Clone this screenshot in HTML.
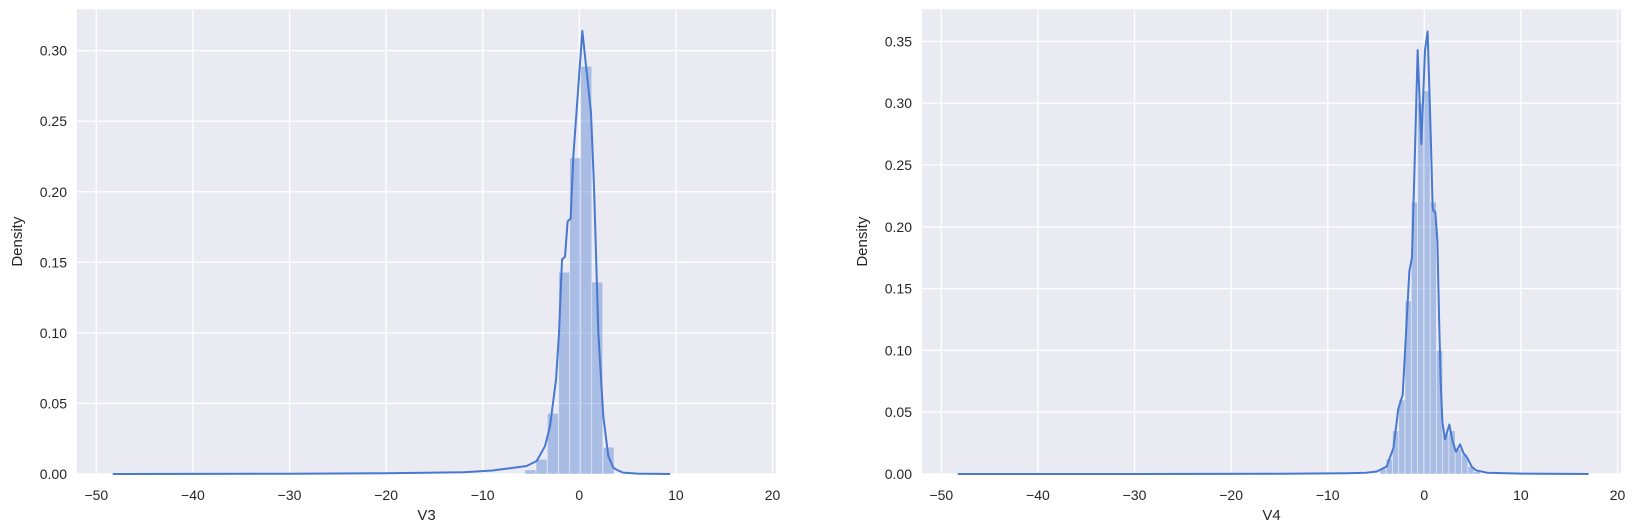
<!DOCTYPE html>
<html><head><meta charset="utf-8">
<style>
html,body{margin:0;padding:0;background:#fff;}
svg{display:block;font-family:"Liberation Sans","DejaVu Sans",sans-serif;}
</style></head>
<body>
<svg id="chart" width="1637" height="529" viewBox="0 0 1637 529" xmlns="http://www.w3.org/2000/svg"></svg>
<script>
// ---- V3 data ----
const v3BinStarts = [-5.63, -4.48, -3.31, -2.14, -1.0, 0.14, 1.28, 2.45];
const v3BinWidth = 1.15;
const v3BinHeights = [0.003, 0.0104, 0.043, 0.143, 0.224, 0.289, 0.136, 0.019];
const v3KdeX = [-48.3, -30, -20, -12, -9, -7.52, -5.45, -4.41, -3.55, -3.03, -2.41, -2.1, -1.79, -1.48, -1.21, -0.9, -0.62, 0.31, 1.21, 1.52, 1.97, 2.48, 3.0, 3.52, 3.86, 4.5, 6, 9.4];
const v3KdeY = [0.0, 0.0002, 0.0005, 0.0012, 0.0025, 0.0038, 0.0057, 0.0092, 0.0198, 0.034, 0.067, 0.100, 0.152, 0.154, 0.179, 0.181, 0.225, 0.314, 0.256, 0.204, 0.100, 0.041, 0.0127, 0.0045, 0.003, 0.001, 0.0003, 0.0];
const v3YTicks = [0.00, 0.05, 0.10, 0.15, 0.20, 0.25, 0.30];
// ---- V4 data ----
const v4BinStarts = [-4.6, -3.95, -3.3, -2.65, -2.0, -1.35, -0.7, -0.05, 0.6, 1.25, 1.9, 2.55, 3.2, 3.85, 4.5, 5.15];
const v4BinWidth = 0.65;
const v4BinHeights = [0.004, 0.012, 0.035, 0.06, 0.14, 0.22, 0.30, 0.31, 0.22, 0.10, 0.032, 0.035, 0.02, 0.016, 0.006, 0.002];
const v4KdeX = [-48.3, -30, -15, -8, -6, -4.93, -3.9, -3.2, -2.69, -2.24, -1.9, -1.55, -1.28, -1.03, -0.69, -0.31, 0.07, 0.34, 0.66, 0.86, 0.94, 1.14, 1.35, 1.52, 1.69, 1.87, 2.14, 2.59, 2.94, 3.28, 3.7, 4.05, 4.45, 4.9, 5.35, 6.5, 10, 17];
const v4KdeY = [0.0, 0.0, 0.0002, 0.0006, 0.001, 0.002, 0.006, 0.021, 0.053, 0.064, 0.113, 0.164, 0.175, 0.243, 0.343, 0.267, 0.343, 0.358, 0.275, 0.216, 0.213, 0.212, 0.189, 0.129, 0.075, 0.042, 0.028, 0.040, 0.026, 0.018, 0.024, 0.017, 0.013, 0.006, 0.003, 0.001, 0.0003, 0.0];
const v4YTicks = [0.00, 0.05, 0.10, 0.15, 0.20, 0.25, 0.30, 0.35];
const xTicks = [-50, -40, -30, -20, -10, 0, 10, 20];

const NS = "http://www.w3.org/2000/svg";
const svg = document.getElementById('chart');
function mk(tag, attrs, parent){
  const e = document.createElementNS(NS, tag);
  for (const k in attrs) e.setAttribute(k, attrs[k]);
  parent.appendChild(e);
  return e;
}

function panel(cfg){
  const g = mk('g', {}, svg);
  
  
  const L = cfg.left, R = cfg.right, T = 9.3, B = 474;
  const xs = v => L + (v - cfg.xmin) / (cfg.xmax - cfg.xmin) * (R - L);
  const ys = v => B - v / cfg.ymax * (B - T);
  const bg = mk('rect', {x:L, y:T, width:R-L, height:B-T, fill:'#eaeaf2'}, g);
  
  
  // grid
  xTicks.forEach(t => {
    const ln = mk('line', {x1:xs(t), x2:xs(t), y1:T, y2:B, stroke:'#fff', 'stroke-width':1.3}, g);
    
    
    const tx = mk('text', {x:xs(t), y:500, 'font-size':14, fill:'#262626', 'text-anchor':'middle'}, g);
    
    
    tx.textContent = t < 0 ? '\u2212' + Math.abs(t) : String(t);
  });
  cfg.yTicks.forEach(t => {
    const ln = mk('line', {x1:L, x2:R, y1:ys(t), y2:ys(t), stroke:'#fff', 'stroke-width':1.3}, g);
    
    
    const tx = mk('text', {x:L-10, y:ys(t)+5, 'font-size':14, fill:'#262626', 'text-anchor':'end'}, g);
    
    
    tx.textContent = t.toFixed(2);
  });
  // bars
  cfg.starts.forEach((s, i) => {
    const x0 = xs(s), x1 = xs(s + cfg.width), y = ys(cfg.heights[i]);
    const r = mk('rect', {x:x0, y:y, width:x1-x0, height:B-y, fill:'#4878d0', 'fill-opacity':0.4, stroke:'#ffffff', 'stroke-opacity':0.5, 'stroke-width':0.8}, g);
    
    
  });
  // kde
  const d = cfg.kx.map((v, i) => (i ? 'L' : 'M') + xs(v).toFixed(2) + ',' + ys(cfg.ky[i]).toFixed(2)).join(' ');
  const p = mk('path', {d:d, fill:'none', stroke:'#4878d0', 'stroke-width':2, 'stroke-linejoin':'round'}, g);
  
  
  // labels
  const xl = mk('text', {x:(L+R)/2, y:520, 'font-size':15, fill:'#262626', 'text-anchor':'middle'}, g);
  
  
  xl.textContent = cfg.xlabel;
  const yl = mk('text', {x:0, y:0, 'font-size':15, fill:'#262626', 'text-anchor':'middle', transform:'translate(' + (L-55) + ',' + ((T+B)/2) + ') rotate(-90)'}, g);
  
  
  yl.textContent = 'Density';
}

panel({name:'v3-panel', left:77, right:776, xmin:-52.0, xmax:20.36, ymax:0.3293, yTicks:v3YTicks,
  starts:v3BinStarts, width:v3BinWidth, heights:v3BinHeights, kx:v3KdeX, ky:v3KdeY, xlabel:'V3'});
panel({name:'v4-panel', left:922, right:1621, xmin:-52.0, xmax:20.36, ymax:0.376, yTicks:v4YTicks,
  starts:v4BinStarts, width:v4BinWidth, heights:v4BinHeights, kx:v4KdeX, ky:v4KdeY, xlabel:'V4'});
</script>
</body></html>
